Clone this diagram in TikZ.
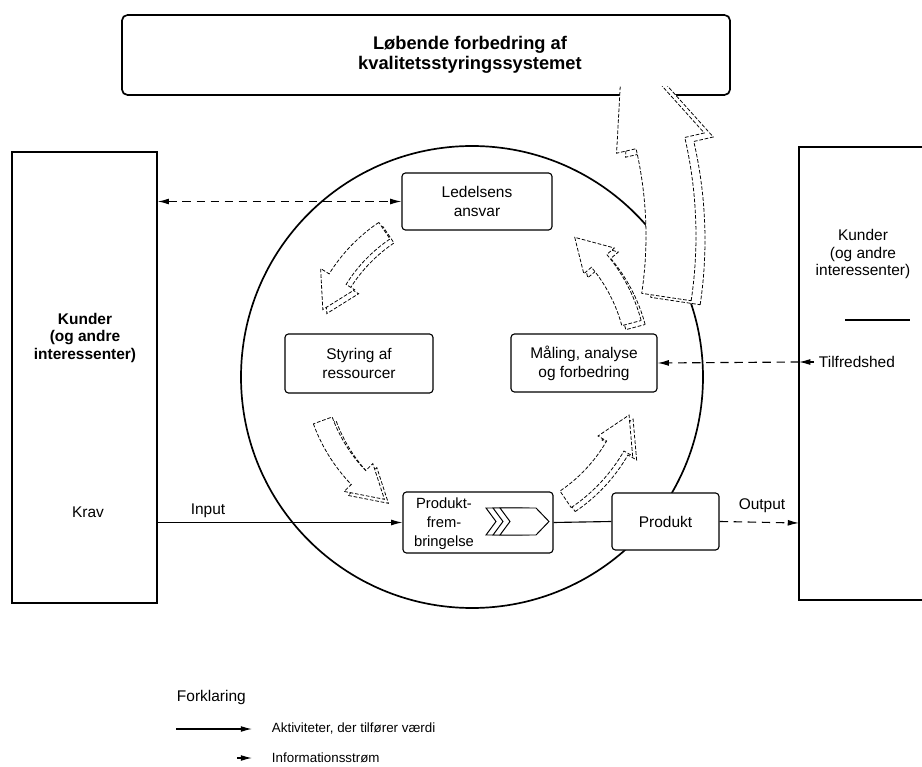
\documentclass[tikz,border=0pt]{standalone}
\usepackage{fontspec}
\setmainfont{Liberation Sans}
\usetikzlibrary{arrows.meta}

% Hollow curved arrow around a centre (cx,cy):
% #1 options, #2 cx, #3 cy, #4 radius, #5 half band width,
% #6 half head width, #7 tail angle, #8 head base angle, #9 tip angle
\newcommand{\arcarrow}[9]{%
  \pgfmathsetmacro\aaRo{#4+#5}%
  \pgfmathsetmacro\aaRi{#4-#5}%
  \pgfmathsetmacro\aaHo{#4+#6}%
  \pgfmathsetmacro\aaHi{#4-#6}%
  \draw[#1] ([shift={(#7:\aaRo)}]#2,#3) arc[start angle=#7, end angle=#8, radius=\aaRo]
    -- ([shift={(#8:\aaHo)}]#2,#3) -- ([shift={(#9:#4)}]#2,#3)
    -- ([shift={(#8:\aaHi)}]#2,#3) -- ([shift={(#8:\aaRi)}]#2,#3)
    arc[start angle=#8, end angle=#7, radius=\aaRi] -- cycle;}

\begin{document}
\begin{tikzpicture}[x=0.025cm, y=-0.025cm,
  font=\fontsize{11}{13.5}\selectfont,
  >={Latex[length=8pt,width=4.2pt]},
  proc/.style={draw, line width=0.8pt, rounded corners=2.5pt, fill=white,
    inner sep=0pt, align=center},
  flow/.style={line width=0.8pt, ->},
  info/.style={line width=0.8pt, dash pattern=on 6pt off 4pt},
  hollow/.style={draw, line width=0.55pt, dash pattern=on 2.6pt off 1.3pt, fill=white}]

\useasboundingbox (0,0) rectangle (922,767);

% continual improvement banner
\node[draw, line width=1.2pt, rounded corners=4pt, minimum width=15.2cm,
  minimum height=2cm, inner sep=0pt] (banner) at (426,55) {};

% process loop
\coordinate (cc) at (472,377);
\draw[line width=1.2pt] (cc) circle[radius=231];

% large improvement arrow rising into the banner
\arcarrow{hollow}{267}{240}{413}{25}{45}{8.5}{-13}{-28}
\arcarrow{hollow}{258}{236}{413}{25}{45}{8.5}{-13}{-28}
\fill[white, rounded corners=2pt] (124.5,16.5) rectangle (727.5,86);
\node[font=\bfseries\fontsize{13}{14.5}\selectfont, align=center] (title) at (470,55)
  {Løbende forbedring af\\kvalitetsstyringssystemet};

% cycle arrows between the four processes
\arcarrow{hollow}{479}{369}{162}{10}{20}{236}{212}{200}
\arcarrow{hollow}{475}{365}{162}{10}{20}{236}{212}{200}
\arcarrow{hollow}{479}{369}{162}{10}{20}{345}{320}{308}
\arcarrow{hollow}{475}{365}{162}{10}{20}{345}{320}{308}
\arcarrow{hollow}{479}{369}{162}{10}{20}{160}{136}{124}
\arcarrow{hollow}{475}{365}{162}{10}{20}{160}{136}{124}
\arcarrow{hollow}{479}{369}{162}{10}{20}{56}{30}{18}
\arcarrow{hollow}{475}{365}{162}{10}{20}{56}{30}{18}

% processes
\node[proc, minimum width=3.75cm, minimum height=1.425cm] (led) at (477,201.5) {Ledelsens\\ansvar};
\node[proc, minimum width=3.7cm, minimum height=1.475cm] (sty) at (359,363.5) {Styring af\\ressourcer};
\node[proc, minimum width=3.65cm, minimum height=1.45cm] (maal) at (584,363) {Måling, analyse\\og forbedring};
\node[proc, minimum width=3.75cm, minimum height=1.525cm] (pf) at (478,522.5) {};
\node[align=center, font=\fontsize{10.5}{13.5}\selectfont] (pftext) at (444,524)
  {Produkt-\\frem-\\bringelse};
\foreach \dx in {-14,-7,0}
  \draw[line width=0.7pt, fill=white, shift={(\dx,0)}]
    (500,508) -- (536,508) -- (549,521.5) -- (536,535) -- (500,535) -- (510,521.5) -- cycle;
\node[proc, minimum width=2.675cm, minimum height=1.425cm] (prod) at (665.5,521.5) {Produkt};

% customers, left
\node[draw, line width=1pt, minimum width=3.625cm, minimum height=11.275cm, inner sep=0pt]
  (lbox) at (84.5,377.5) {};
\node[font=\bfseries\fontsize{11}{12.5}\selectfont, align=center] (lkunde) at (85,338)
  {Kunder\\(og andre\\interessenter)};
\node (krav) at (88,512) {Krav};

% customers, right
\draw[line width=1pt] (922,147) -- (799,147) -- (799,600) -- (922,600);
\coordinate (rsat) at (799,362);
\coordinate (rout) at (799,523);
\node[align=center, font=\fontsize{11}{12.5}\selectfont] (rkunde) at (863,254)
  {Kunder\\(og andre\\interessenter)};
\draw[line width=0.8pt] (845,320) -- (910,320);
\node[anchor=west] (tilf) at (814,362) {Tilfredshed};

% flows
\draw[flow] (lbox.east |- pf.west) -- (pf.west);
\node (inp) at (208,511) {Input};
\draw[line width=0.8pt] (pf.east) -- (prod.west);
\draw[info, ->] (prod.east) -- (rout);
\node (outp) at (762,506) {Output};
\draw[info, <->] (lbox.east |- led.west) -- (led.west);
\draw[info, ->] (rsat) -- (maal.east);
\draw[flow] (tilf.west) -- (rsat);

% legend
\node[anchor=west] (legt) at (172,697) {Forklaring};
\coordinate (la) at (176,729);
\coordinate (lb) at (252,729);
\draw[flow] (la) -- (lb);
\node[anchor=west, font=\fontsize{9.5}{11.5}\selectfont] (leg1) at (267,729) {Aktiviteter, der tilfører værdi};
\coordinate (lc) at (237,758);
\coordinate (ld) at (252,758);
\draw[flow] (lc) -- (ld);
\node[anchor=west, font=\fontsize{9.5}{11.5}\selectfont] (leg2) at (267,758) {Informationsstrøm};
\end{tikzpicture}
\end{document}
